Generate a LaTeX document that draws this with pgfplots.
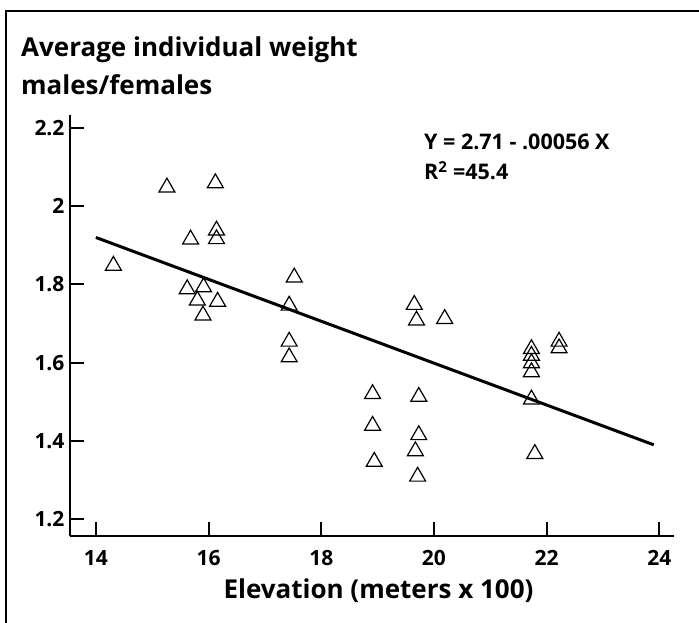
\documentclass[border=0pt]{standalone}
\usepackage{pgfplots}
\pgfplotsset{compat=1.18}
\usepackage{fontspec}
\setmainfont{Open Sans}
\begin{document}
\begin{tikzpicture}[x=1pt,y=1pt]
\useasboundingbox (0,0) rectangle (699,623);
\draw[line width=2pt] (6,0) -- (6,612) -- (699,612);
\begin{axis}[
  at={(70pt,87pt)}, anchor=south west, scale only axis,
  width=604pt, height=421pt,
  xmin=13.54, xmax=24.26, ymin=1.157, ymax=2.233,
  axis x line*=bottom, axis y line*=left,
  axis line style={line width=2pt},
  xtick={14,16,18,20,22,24},
  ytick={1.2,1.4,1.6,1.8,2,2.2},
  tick align=inside, major tick length=14pt,
  tick style={line width=2pt, black},
  ticklabel style={font=\fontsize{21}{21}\selectfont\bfseries},
  /pgf/number format/assume math mode=true,
  xticklabel style={yshift=-11pt},
  yticklabel style={xshift=-2pt},
  clip=false,
]
\addplot[line width=3pt, black] coordinates {(14,1.92) (23.9,1.39)};
\addplot[only marks, mark=triangle, mark size=9.2pt,
  mark options={line width=1.2pt, fill=white, draw=black}] coordinates {
(16.12,2.059)
(15.26,2.048)
(16.14,1.938)
(16.14,1.916)
(15.68,1.915)
(14.31,1.848)
(17.52,1.818)
(15.91,1.793)
(15.62,1.788)
(15.80,1.759)
(16.16,1.756)
(19.65,1.748)
(17.43,1.746)
(15.90,1.721)
(20.19,1.712)
(19.69,1.708)
(22.22,1.654)
(17.43,1.654)
(22.22,1.637)
(21.73,1.635)
(21.73,1.618)
(17.43,1.614)
(21.73,1.599)
(21.73,1.576)
(18.91,1.520)
(19.73,1.513)
(21.73,1.506)
(18.91,1.439)
(19.73,1.415)
(19.67,1.374)
(21.79,1.367)
(18.94,1.347)
(19.71,1.309)
};
\end{axis}
\node[anchor=base west, inner sep=0, font=\fontsize{26}{26}\selectfont\bfseries] at (21,566) {Average individual weight};
\node[anchor=base west, inner sep=0, font=\fontsize{26}{26}\selectfont\bfseries] at (21,528) {males/females};
\node[anchor=base west, inner sep=0, font=\fontsize{21.5}{21.5}\selectfont\bfseries] at (424,473) {Y = 2.71 - .00056 X};
\node[anchor=base west, inner sep=0, font=\fontsize{21.5}{21.5}\selectfont\bfseries] at (424,443) {R\textsuperscript{2} =45.4};
\node[anchor=base, inner sep=0, font=\fontsize{26}{26}\selectfont\bfseries] at (378.5,24) {Elevation (meters x 100)};
\end{tikzpicture}
\end{document}
